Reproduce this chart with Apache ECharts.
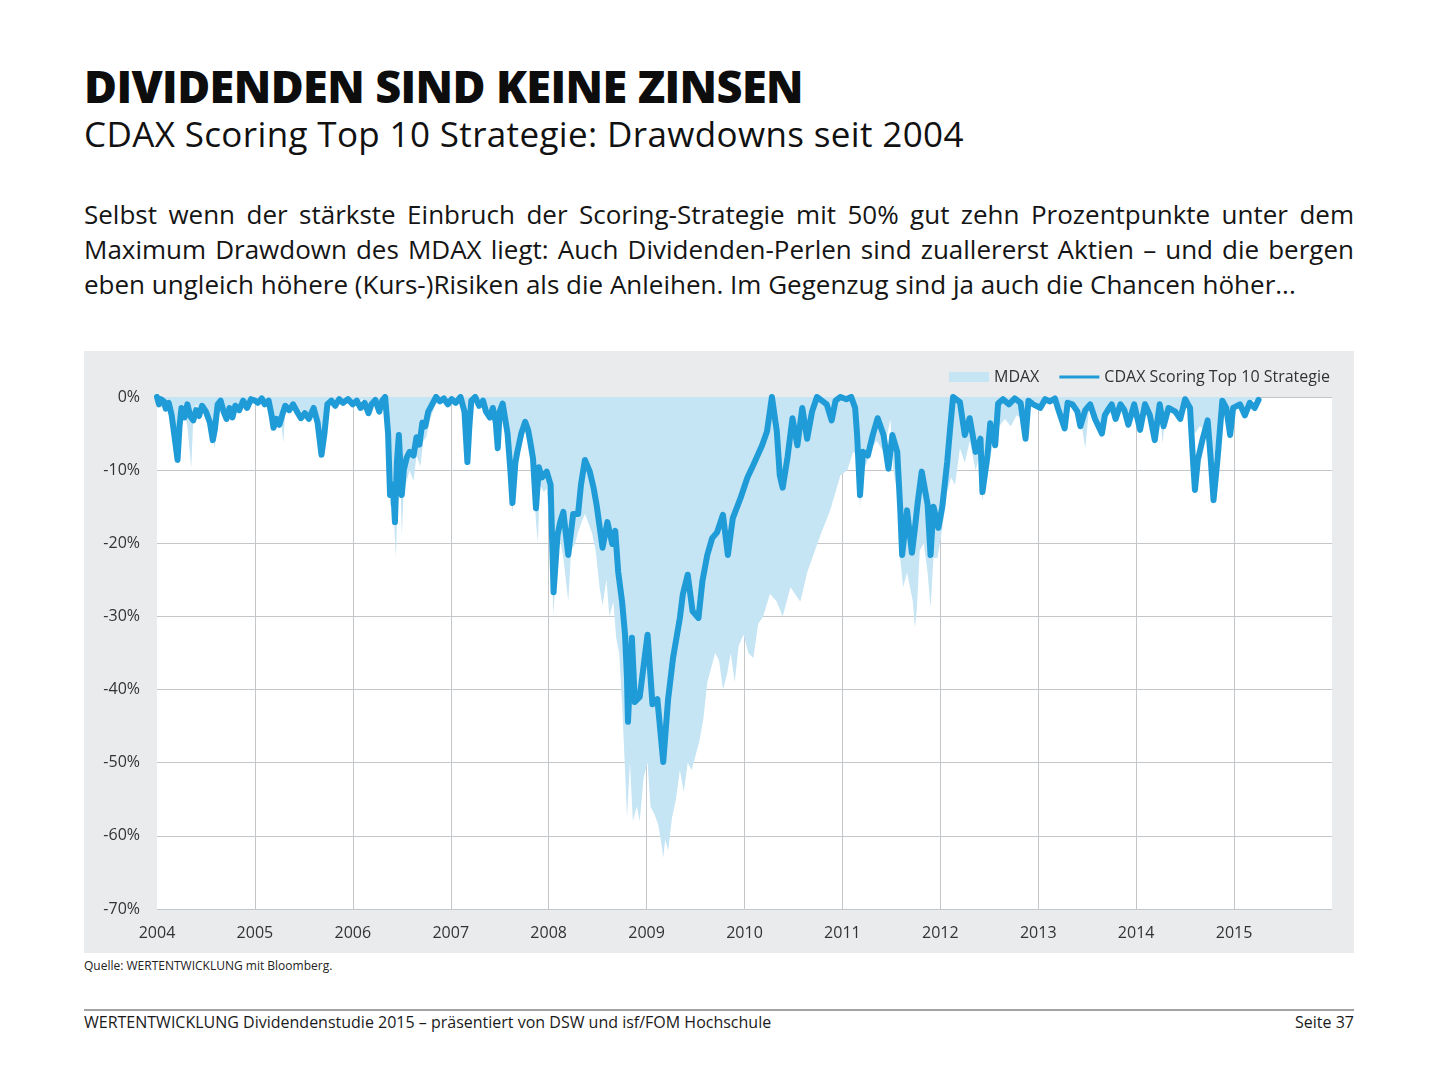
<!DOCTYPE html>
<html>
<head>
<meta charset="utf-8">
<script src="https://cdn.jsdelivr.net/npm/echarts@6/dist/echarts.min.js"></script>
<style>
  html, body { margin: 0; padding: 0; background: #fff; }
  body { width: 1440px; height: 1080px; position: relative; overflow: hidden; font-family: "Open Sans", sans-serif; color: #111; }
  .abs { position: absolute; white-space: nowrap; }
  #title { left: 84px; top: 63px; font-size: 45px; line-height: 45px; font-weight: 800; color: #0d0d0d; letter-spacing: -0.6px; }
  #subtitle { left: 84px; top: 116px; font-size: 35px; line-height: 35px; font-weight: 400; color: #111; letter-spacing: 0.36px; }
  .para { position: absolute; left: 84px; width: 1270px; font-size: 26px; line-height: 35px; color: #151515; white-space: nowrap; }
  .just { text-align: justify; text-align-last: justify; }
  #chart { position: absolute; left: 84px; top: 351px; width: 1270px; height: 602px; }
  #source { left: 84px; top: 958px; font-size: 12px; line-height: 16px; color: #222; }
  #rule { position: absolute; left: 84px; top: 1009px; width: 1270px; height: 2px; background: #a3a3a3; }
  #footer { left: 84px; top: 1012px; font-size: 16px; line-height: 20px; color: #1a1a1a; }
  #page { right: 86px; top: 1012px; font-size: 16px; line-height: 20px; color: #1a1a1a; }
</style>
</head>
<body>
<div id="title" class="abs">DIVIDENDEN SIND KEINE ZINSEN</div>
<div id="subtitle" class="abs">CDAX Scoring Top 10 Strategie: Drawdowns seit 2004</div>
<div class="para just" style="top:197px;">Selbst wenn der stärkste Einbruch der Scoring-Strategie mit 50% gut zehn Prozentpunkte unter dem</div>
<div class="para just" style="top:232px;">Maximum Drawdown des MDAX liegt: Auch Dividenden-Perlen sind zuallererst Aktien – und die bergen</div>
<div class="para" style="top:267px;">eben ungleich höhere (Kurs-)Risiken als die Anleihen. Im Gegenzug sind ja auch die Chancen höher...</div>
<div id="chart"></div>
<div id="source" class="abs">Quelle: WERTENTWICKLUNG mit Bloomberg.</div>
<div id="rule"></div>
<div id="footer" class="abs">WERTENTWICKLUNG Dividendenstudie 2015 – präsentiert von DSW und isf/FOM Hochschule</div>
<div id="page" class="abs">Seite 37</div>
<script>
// ---- data (drawdown in %, time in decimal years) ----
const seriesNames = ['MDAX', 'CDAX Scoring Top 10 Strategie'];
const yearTicks = [2004, 2005, 2006, 2007, 2008, 2009, 2010, 2011, 2012, 2013, 2014, 2015];

const cdaxYears = [
2004.00,2004.02,2004.04,2004.07,2004.09,2004.12,2004.15,2004.18,2004.21,2004.23,2004.25,2004.28,2004.31,2004.34,2004.37,2004.40,2004.43,2004.46,2004.50,2004.54,2004.57,2004.59,2004.62,2004.65,2004.68,2004.71,2004.74,2004.77,2004.80,2004.84,2004.88,2004.92,2004.96,
2005.00,2005.03,2005.07,2005.10,2005.14,2005.17,2005.19,2005.22,2005.25,2005.28,2005.31,2005.35,2005.39,2005.43,2005.47,2005.51,2005.55,2005.60,2005.64,2005.68,2005.71,2005.74,2005.78,2005.82,2005.86,2005.90,2005.95,
2006.00,2006.04,2006.08,2006.12,2006.16,2006.19,2006.23,2006.27,2006.30,2006.33,2006.36,2006.38,2006.41,2006.43,2006.45,2006.47,2006.50,2006.52,2006.55,2006.58,2006.62,2006.65,2006.68,2006.71,2006.74,2006.77,2006.81,2006.85,2006.89,2006.93,2006.97,
2007.01,2007.05,2007.10,2007.14,2007.17,2007.19,2007.21,2007.25,2007.29,2007.33,2007.36,2007.40,2007.43,2007.46,2007.48,2007.50,2007.53,2007.58,2007.61,2007.63,2007.66,2007.68,2007.72,2007.76,2007.79,2007.81,2007.84,2007.87,2007.90,2007.93,2007.98,
2008.02,2008.05,2008.09,2008.12,2008.15,2008.20,2008.25,2008.30,2008.33,2008.37,2008.42,2008.46,2008.49,2008.55,2008.60,2008.65,2008.68,2008.71,2008.75,2008.78,2008.80,2008.81,2008.85,2008.88,2008.93,
2009.01,2009.06,2009.11,2009.17,2009.22,2009.27,2009.34,2009.37,2009.42,2009.47,2009.53,2009.57,2009.62,2009.67,2009.72,2009.78,2009.83,2009.88,2009.96,
2010.03,2010.09,2010.18,2010.23,2010.28,2010.33,2010.36,2010.39,2010.44,2010.49,2010.54,2010.59,2010.64,2010.69,2010.74,2010.79,2010.84,2010.89,2010.93,2010.98,
2011.04,2011.09,2011.13,2011.15,2011.18,2011.21,2011.26,2011.31,2011.36,2011.42,2011.47,2011.51,2011.56,2011.59,2011.61,2011.66,2011.71,2011.74,2011.77,2011.81,2011.87,2011.90,2011.93,2011.98,
2012.02,2012.07,2012.10,2012.13,2012.20,2012.25,2012.30,2012.36,2012.41,2012.43,2012.48,2012.51,2012.56,2012.59,2012.64,2012.70,2012.76,2012.82,2012.87,2012.90,2012.95,
2013.02,2013.07,2013.12,2013.17,2013.20,2013.27,2013.30,2013.35,2013.40,2013.43,2013.48,2013.53,2013.58,2013.65,2013.68,2013.71,2013.75,2013.79,2013.84,2013.88,2013.92,2013.98,
2014.04,2014.09,2014.14,2014.19,2014.24,2014.28,2014.33,2014.40,2014.45,2014.50,2014.55,2014.58,2014.60,2014.63,2014.68,2014.73,2014.76,2014.79,2014.83,2014.88,2014.92,2014.96,2014.99,
2015.06,2015.11,2015.16,2015.21,2015.25
];
const cdaxValues = [
0,-1.0,-0.3,-0.6,-1.6,-0.8,-2.5,-5.5,-8.6,-4.0,-1.5,-2.8,-1.0,-2.6,-3.2,-1.8,-2.6,-1.2,-2.0,-3.5,-5.9,-4.5,-1.0,-0.5,-2.0,-3.0,-1.5,-2.8,-1.2,-1.8,-0.5,-1.5,-0.3,
-0.5,-0.8,-0.2,-1.0,-0.5,-2.5,-4.2,-3.0,-3.8,-2.4,-1.2,-1.8,-1.0,-2.0,-2.9,-2.2,-3.0,-1.5,-3.5,-7.9,-5.0,-1.0,-0.5,-1.2,-0.3,-0.8,-0.3,
-1.0,-0.5,-1.5,-0.8,-2.2,-1.0,-0.4,-2.0,-0.5,0,-5.0,-13.4,-12.0,-17.1,-9.0,-5.2,-13.4,-10.0,-8.3,-7.5,-8.0,-5.5,-6.5,-3.5,-4.0,-2.0,-1.0,0,-0.6,-0.2,-1.0,
-0.3,-0.8,0,-2.0,-8.9,-4.0,-0.5,0,-1.2,-0.5,-2.0,-2.8,-1.5,-3.5,-7.0,-2.0,-0.9,-5.0,-10.2,-14.5,-9.0,-7.5,-5.0,-3.4,-4.5,-6.0,-8.4,-15.2,-9.6,-11.0,-10.2,
-12.0,-26.7,-18.9,-17.0,-15.7,-21.6,-16.0,-16.0,-12.0,-8.6,-10.2,-12.5,-14.8,-20.6,-17.1,-20.1,-18.3,-23.9,-28.0,-32.5,-38.4,-44.4,-32.9,-41.7,-41.0,
-32.5,-42.0,-41.3,-49.9,-41.3,-35.7,-30.2,-27.0,-24.3,-29.3,-30.2,-25.2,-21.6,-19.3,-18.5,-16.1,-21.6,-16.6,-13.8,
-11.0,-9.3,-6.6,-4.7,0,-4.7,-10.7,-12.4,-8.2,-2.9,-6.6,-1.5,-5.7,-2.0,0,-0.5,-1.0,-3.2,-0.5,0,
-0.3,0,-1.5,-5.2,-13.4,-7.5,-8.0,-5.2,-2.9,-5.2,-9.8,-5.2,-7.5,-15.2,-21.6,-15.5,-21.3,-18.0,-14.3,-10.2,-14.7,-21.6,-15.0,-17.9,
-15.0,-8.9,-4.3,0,-0.7,-5.2,-2.9,-7.5,-5.7,-13.0,-8.2,-3.6,-6.6,-0.9,-0.3,-1.0,-0.2,-0.8,-5.7,-0.5,-1.0,
-1.5,-0.3,-0.6,-0.2,-1.5,-4.3,-0.8,-1.0,-2.0,-4.0,-1.8,-1.0,-3.0,-5.0,-2.5,-1.8,-1.0,-3.0,-1.0,-1.8,-3.8,-1.0,
-4.5,-1.0,-2.5,-5.9,-1.0,-4.0,-1.5,-2.0,-3.0,-0.3,-1.5,-8.6,-12.7,-8.6,-5.7,-3.2,-8.2,-14.1,-8.6,-0.5,-1.5,-5.2,-1.5,
-1.0,-2.5,-0.8,-1.5,-0.4
];

const mdaxYears = [
2004.00,2004.03,2004.06,2004.09,2004.12,2004.15,2004.18,2004.21,2004.24,2004.28,2004.31,2004.35,2004.37,2004.40,2004.44,2004.48,2004.52,2004.56,2004.59,2004.61,2004.65,2004.70,2004.75,2004.80,2004.86,2004.92,2004.97,
2005.03,2005.08,2005.13,2005.18,2005.22,2005.26,2005.29,2005.31,2005.36,2005.42,2005.48,2005.53,2005.60,2005.65,2005.69,2005.72,2005.75,2005.80,2005.88,2005.95,
2006.02,2006.10,2006.17,2006.22,2006.28,2006.33,2006.36,2006.38,2006.41,2006.44,2006.46,2006.48,2006.50,2006.52,2006.55,2006.58,2006.62,2006.65,2006.69,2006.72,2006.75,2006.79,2006.83,2006.87,2006.92,2006.98,
2007.04,2007.10,2007.14,2007.17,2007.19,2007.22,2007.27,2007.33,2007.38,2007.43,2007.46,2007.48,2007.51,2007.54,2007.58,2007.61,2007.63,2007.66,2007.69,2007.73,2007.76,2007.80,2007.84,2007.87,2007.89,2007.91,2007.95,2007.98,
2008.02,2008.05,2008.08,2008.11,2008.15,2008.20,2008.23,2008.27,2008.30,2008.34,2008.37,2008.40,2008.44,2008.48,2008.52,2008.55,2008.59,2008.62,2008.66,2008.69,2008.72,2008.75,2008.78,2008.80,2008.83,2008.86,2008.90,2008.93,2008.97,
2009.01,2009.04,2009.08,2009.12,2009.15,2009.17,2009.19,2009.22,2009.26,2009.30,2009.34,2009.38,2009.42,2009.46,2009.50,2009.54,2009.58,2009.62,2009.66,2009.70,2009.74,2009.78,2009.82,2009.86,2009.90,2009.94,2009.99,
2010.04,2010.09,2010.14,2010.19,2010.26,2010.33,2010.39,2010.47,2010.57,2010.64,2010.74,2010.80,2010.87,2010.93,2010.98,
2011.05,2011.11,2011.15,2011.18,2011.21,2011.25,2011.30,2011.35,2011.42,2011.46,2011.49,2011.52,2011.56,2011.59,2011.62,2011.66,2011.72,2011.74,2011.76,2011.79,2011.83,2011.87,2011.90,2011.93,2011.97,
2012.00,2012.04,2012.07,2012.11,2012.15,2012.20,2012.25,2012.30,2012.36,2012.40,2012.43,2012.47,2012.51,2012.55,2012.60,2012.66,2012.72,2012.78,2012.84,2012.87,2012.91,2012.96,
2013.03,2013.10,2013.18,2013.26,2013.31,2013.38,2013.44,2013.48,2013.52,2013.58,2013.65,2013.70,2013.78,2013.85,2013.92,2013.98,
2014.04,2014.10,2014.19,2014.24,2014.27,2014.30,2014.38,2014.45,2014.50,2014.55,2014.60,2014.65,2014.70,2014.75,2014.79,2014.83,2014.88,2014.94,2014.99,
2015.06,2015.12,2015.18,2015.25
];
const mdaxValues = [
0,-0.5,-1.0,-2.0,-0.5,-1.5,-3.5,-4.5,-1.0,-2.0,-4.0,-9.7,-3.0,-1.0,-2.0,-1.0,-2.5,-4.0,-7.2,-3.0,-0.5,-2.5,-1.0,-2.0,-0.5,-1.0,0,
-0.5,-0.2,-1.0,-2.5,-3.5,-2.0,-6.3,-2.0,-1.0,-1.5,-2.0,-2.5,-1.5,-2.5,-6.0,-4.0,-0.5,-0.3,-0.8,0,
-0.8,-0.3,-1.5,-0.2,-1.0,0,-6.0,-15.0,-14.0,-22.0,-12.0,-8.0,-18.9,-13.0,-11.5,-10.0,-11.5,-8.0,-9.5,-6.0,-5.5,-3.0,-1.5,0,-0.5,-1.0,
-0.3,0,-2.5,-9.0,-4.5,-0.5,0,-1.0,-2.5,-2.0,-4.5,-8.0,-2.5,-1.5,-6.0,-11.0,-16.0,-10.0,-8.5,-6.0,-4.5,-6.5,-10.0,-17.0,-19.9,-12.0,-13.0,-12.5,
-20.0,-29.8,-22.0,-19.0,-22.0,-27.9,-21.0,-20.0,-18.5,-17.0,-16.0,-17.0,-18.5,-21.0,-26.0,-28.5,-25.0,-30.0,-28.0,-33.0,-35.0,-42.0,-51.0,-57.5,-50.0,-58.0,-56.0,-58.0,-52.0,
-50.0,-56.0,-57.0,-58.5,-61.0,-63.0,-60.5,-62.0,-57.5,-55.0,-51.0,-54.0,-50.0,-51.0,-49.0,-47.0,-44.0,-39.0,-37.0,-35.0,-36.0,-40.0,-38.0,-35.0,-39.0,-34.0,-32.5,
-35.0,-35.7,-31.0,-30.0,-26.9,-28.0,-30.0,-26.0,-28.0,-24.0,-20.2,-18.0,-15.7,-13.0,-10.7,
-10.0,-7.5,-8.0,-15.0,-10.0,-9.0,-7.0,-6.0,-7.5,-5.0,-3.0,-10.0,-13.0,-22.0,-26.0,-24.0,-28.0,-31.6,-29.0,-21.0,-20.0,-24.0,-28.8,-22.0,-22.0,
-19.7,-16.0,-13.0,-11.0,-12.0,-7.0,-9.0,-6.0,-10.0,-8.0,-14.3,-9.0,-8.0,-6.0,-4.0,-3.0,-4.0,-2.5,-3.0,-5.0,-1.0,-0.5,
-1.2,-0.3,-0.8,-3.5,-0.6,-1.5,-3.5,-7.0,-1.5,-2.5,-4.5,-2.0,-2.5,-1.0,-3.0,-0.8,
-3.5,-1.0,-5.0,-1.5,-6.4,-2.0,-1.5,-2.0,-0.5,-3.0,-5.0,-4.0,-4.5,-6.0,-9.0,-5.0,-1.0,-2.5,-1.0,
-0.8,-2.0,-0.5,-0.3
];

// ---- build chart ----
const zip = (xs, ys) => xs.map((x, i) => [x, ys[i]]);
const lineColor = '#1f9bd7';
const areaColor = '#c5e4f4';

const chart = echarts.init(document.getElementById('chart'), null, { renderer: 'canvas' });
chart.setOption({
  animation: false,
  backgroundColor: '#e9ebec',
  textStyle: { fontFamily: 'Open Sans' },
  grid: { left: 73, right: 22, top: 46, bottom: 44, show: true, backgroundColor: '#ffffff', borderWidth: 0 },
  legend: {
    right: 19, top: 13, itemWidth: 40, itemHeight: 10, itemGap: 20, itemSymbolKeepAspect: true, symbolKeepAspect: true,
    textStyle: { fontSize: 16, color: '#333', fontFamily: 'Open Sans' },
    data: [
      { name: seriesNames[0], icon: 'rect' },
      { name: seriesNames[1], icon: 'path://M0,0L40,0L40,3L0,3Z' }
    ]
  },
  xAxis: {
    type: 'value', min: 2004, max: 2016, interval: 1,
    axisLine: { show: false }, axisTick: { show: false },
    splitLine: { show: true, showMinLine: false, showMaxLine: false, lineStyle: { color: '#c4c7c9', width: 1 } },
    axisLabel: {
      fontSize: 16, color: '#333', margin: 16,
      formatter: v => (yearTicks.indexOf(v) >= 0 ? String(v) : '')
    }
  },
  yAxis: {
    type: 'value', min: -70, max: 0, interval: 10,
    axisLine: { show: false }, axisTick: { show: false },
    splitLine: { show: true, lineStyle: { color: '#c4c7c9', width: 1 } },
    axisLabel: { fontSize: 16, color: '#333', margin: 17, formatter: '{value}%' }
  },
  series: [
    {
      name: seriesNames[0], type: 'line', data: zip(mdaxYears, mdaxValues),
      symbol: 'none', showSymbol: false,
      lineStyle: { width: 0 }, itemStyle: { color: areaColor },
      areaStyle: { color: areaColor, opacity: 1, origin: 'end' }, z: 2
    },
    {
      name: seriesNames[1], type: 'line', data: zip(cdaxYears, cdaxValues),
      symbol: 'none', showSymbol: false,
      lineStyle: { width: 6, color: lineColor, join: 'round', cap: 'round' },
      itemStyle: { color: lineColor }, z: 3
    }
  ]
});
</script>
</body>
</html>
